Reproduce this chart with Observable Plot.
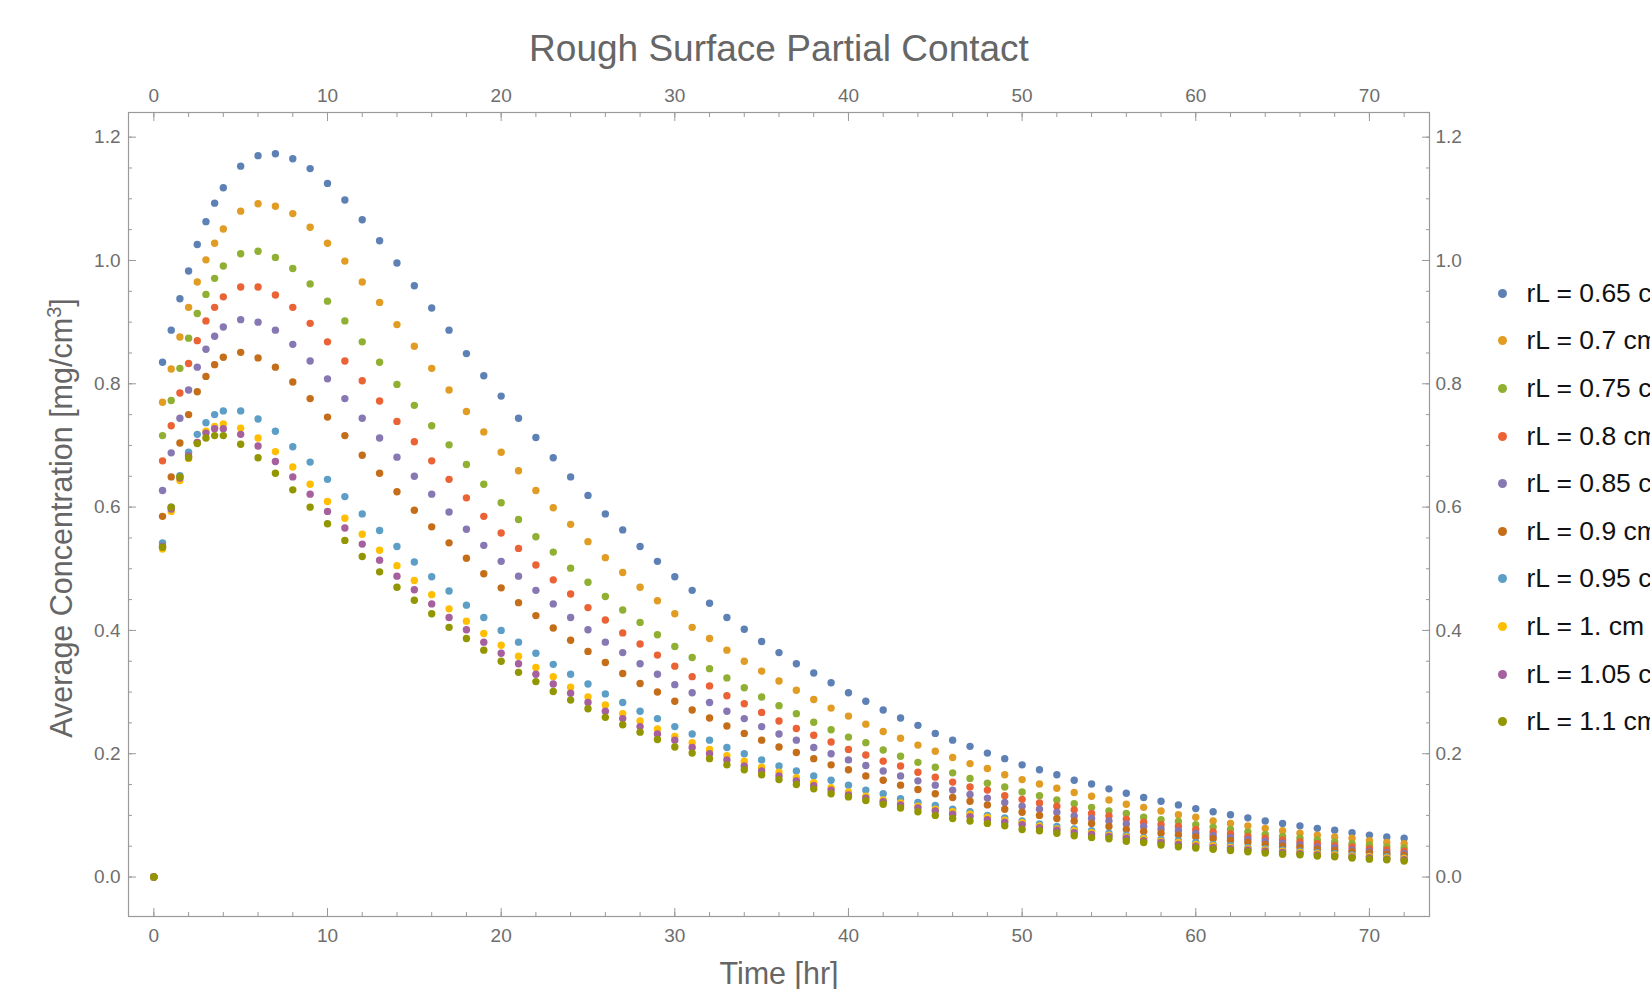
<!DOCTYPE html>
<html>
<head>
<meta charset="utf-8">
<script src="https://cdn.jsdelivr.net/npm/d3@7"></script>
<script src="https://cdn.jsdelivr.net/npm/@observablehq/plot@0.6"></script>
<style>
  html, body { margin: 0; padding: 0; background: #fff; overflow: hidden; }
  #wrap { position: relative; width: 1650px; height: 989px; overflow: hidden;
          font-family: "Liberation Sans", Arial, sans-serif; }
  #chart { position: absolute; left: 0; top: 0; }
  .lbl { position: absolute; white-space: nowrap; line-height: 1; color: #666; }
  #title { left: 779px; top: 48px; font-size: 37px; transform: translate(-50%, -50%); }
  #xlabel { left: 779px; top: 973px; font-size: 30.5px; transform: translate(-50%, -50%); }
  #ylabel { left: 61px; top: 518px; font-size: 30.5px; transform: translate(-50%, -50%) rotate(-90deg); }
  #ylabel sup { font-size: 20px; vertical-align: 0.55em; line-height: 0; }
  .leg { position: absolute; left: 1498px; height: 30px; display: flex; align-items: center;
         white-space: nowrap; font-size: 26.5px; color: #111; }
  .leg .sw { width: 9px; height: 9px; border-radius: 50%; margin-right: 19.5px; flex: none; }
</style>
</head>
<body>
<div id="wrap">
  <div id="chart"></div>
  <div class="lbl" id="title">Rough Surface Partial Contact</div>
  <div class="lbl" id="xlabel">Time [hr]</div>
  <div class="lbl" id="ylabel">Average Concentration [mg/cm<sup>3</sup>]</div>
</div>
<script>
// ---- data ----
const times = [0, 0.5, 1, 1.5, 2, 2.5, 3, 3.5, 4,
  5, 6, 7, 8, 9, 10, 11, 12, 13, 14, 15, 16, 17, 18, 19, 20,
  21, 22, 23, 24, 25, 26, 27, 28, 29, 30, 31, 32, 33, 34, 35, 36, 37, 38, 39, 40,
  41, 42, 43, 44, 45, 46, 47, 48, 49, 50, 51, 52, 53, 54, 55, 56, 57, 58, 59, 60,
  61, 62, 63, 64, 65, 66, 67, 68, 69, 70, 71, 72];

const seriesLabels = ["rL = 0.65 cm", "rL = 0.7 cm", "rL = 0.75 cm", "rL = 0.8 cm", "rL = 0.85 cm",
  "rL = 0.9 cm", "rL = 0.95 cm", "rL = 1. cm", "rL = 1.05 cm", "rL = 1.1 cm"];

const seriesColors = ["#5E81B5", "#E19C24", "#8FB032", "#EB6235", "#8778B3",
  "#C56E1A", "#5D9EC7", "#FFBF00", "#A5609D", "#929600"];

const rL065 = [0, 0.835, 0.887, 0.938, 0.983, 1.026, 1.063, 1.093, 1.118,
  1.153, 1.170, 1.173, 1.165, 1.149, 1.125,
  1.098, 1.066, 1.032, 0.996, 0.959, 0.923, 0.887, 0.849, 0.813, 0.780,
  0.744, 0.713, 0.680, 0.649, 0.619, 0.589, 0.563, 0.536, 0.512, 0.487,
  0.465, 0.444, 0.421, 0.402, 0.382, 0.364, 0.346, 0.331, 0.315, 0.299,
  0.285, 0.271, 0.258, 0.246, 0.233, 0.222, 0.212, 0.201, 0.192, 0.182,
  0.174, 0.166, 0.157, 0.151, 0.143, 0.136, 0.129, 0.123, 0.117, 0.111,
  0.106, 0.101, 0.096, 0.091, 0.087, 0.083, 0.079, 0.076, 0.072, 0.068, 0.065, 0.063];

const rL070 = [0, 0.770, 0.824, 0.876, 0.924, 0.965, 1.001, 1.028, 1.051,
  1.080, 1.092, 1.088, 1.076, 1.054, 1.028,
  0.999, 0.965, 0.932, 0.896, 0.861, 0.825, 0.790, 0.755, 0.722, 0.689,
  0.659, 0.627, 0.599, 0.572, 0.544, 0.518, 0.494, 0.470, 0.448, 0.427,
  0.405, 0.387, 0.368, 0.350, 0.334, 0.318, 0.303, 0.288, 0.274, 0.261,
  0.248, 0.236, 0.225, 0.214, 0.204, 0.194, 0.184, 0.176, 0.166, 0.158,
  0.151, 0.144, 0.137, 0.131, 0.125, 0.118, 0.113, 0.107, 0.101, 0.097,
  0.091, 0.087, 0.083, 0.079, 0.075, 0.071, 0.068, 0.065, 0.063, 0.059, 0.056, 0.054];

const rL075 = [0, 0.716, 0.773, 0.825, 0.874, 0.914, 0.945, 0.971, 0.991,
  1.011, 1.015, 1.005, 0.987, 0.962, 0.934,
  0.902, 0.868, 0.835, 0.799, 0.765, 0.732, 0.701, 0.669, 0.637, 0.607,
  0.580, 0.552, 0.527, 0.501, 0.478, 0.455, 0.433, 0.413, 0.393, 0.374,
  0.356, 0.338, 0.323, 0.307, 0.292, 0.278, 0.265, 0.251, 0.239, 0.227,
  0.218, 0.206, 0.196, 0.186, 0.178, 0.169, 0.160, 0.152, 0.146, 0.138,
  0.132, 0.125, 0.119, 0.113, 0.107, 0.103, 0.097, 0.093, 0.090, 0.085,
  0.081, 0.077, 0.073, 0.069, 0.066, 0.063, 0.060, 0.057, 0.054, 0.052, 0.049, 0.047];

const rL080 = [0, 0.675, 0.732, 0.785, 0.833, 0.870, 0.902, 0.924, 0.941,
  0.957, 0.957, 0.944, 0.924, 0.898, 0.868,
  0.837, 0.805, 0.772, 0.739, 0.706, 0.675, 0.645, 0.615, 0.585, 0.558,
  0.533, 0.506, 0.482, 0.459, 0.437, 0.417, 0.396, 0.378, 0.360, 0.342,
  0.325, 0.310, 0.294, 0.281, 0.267, 0.253, 0.241, 0.230, 0.219, 0.207,
  0.198, 0.188, 0.180, 0.170, 0.162, 0.154, 0.146, 0.141, 0.132, 0.126,
  0.120, 0.115, 0.109, 0.103, 0.099, 0.094, 0.089, 0.085, 0.082, 0.077,
  0.073, 0.070, 0.066, 0.063, 0.060, 0.057, 0.054, 0.051, 0.049, 0.046, 0.044, 0.042];

const rL085 = [0, 0.627, 0.688, 0.744, 0.790, 0.827, 0.856, 0.877, 0.892,
  0.904, 0.900, 0.887, 0.864, 0.837, 0.808,
  0.776, 0.744, 0.712, 0.681, 0.650, 0.621, 0.592, 0.564, 0.538, 0.512,
  0.488, 0.465, 0.443, 0.421, 0.401, 0.381, 0.364, 0.346, 0.329, 0.312,
  0.299, 0.283, 0.269, 0.257, 0.244, 0.232, 0.222, 0.210, 0.200, 0.190,
  0.181, 0.172, 0.164, 0.156, 0.149, 0.141, 0.134, 0.128, 0.121, 0.115,
  0.110, 0.105, 0.099, 0.095, 0.091, 0.086, 0.082, 0.078, 0.075, 0.071,
  0.067, 0.064, 0.061, 0.058, 0.055, 0.052, 0.049, 0.047, 0.044, 0.042, 0.040, 0.038];

const rL090 = [0, 0.585, 0.649, 0.704, 0.750, 0.787, 0.812, 0.831, 0.843,
  0.851, 0.842, 0.827, 0.803, 0.776, 0.746,
  0.716, 0.684, 0.655, 0.625, 0.595, 0.568, 0.542, 0.517, 0.492, 0.469,
  0.445, 0.424, 0.404, 0.384, 0.366, 0.348, 0.330, 0.314, 0.300, 0.285,
  0.271, 0.258, 0.245, 0.233, 0.222, 0.211, 0.202, 0.192, 0.182, 0.174,
  0.164, 0.157, 0.149, 0.142, 0.135, 0.129, 0.123, 0.117, 0.110, 0.105,
  0.100, 0.095, 0.091, 0.087, 0.082, 0.077, 0.074, 0.071, 0.068, 0.065,
  0.062, 0.059, 0.056, 0.053, 0.050, 0.048, 0.045, 0.043, 0.041, 0.039, 0.037, 0.035];

const rL095 = [0, 0.542, 0.600, 0.651, 0.689, 0.718, 0.737, 0.750, 0.756,
  0.756, 0.743, 0.723, 0.698, 0.673, 0.645,
  0.617, 0.589, 0.562, 0.536, 0.511, 0.487, 0.464, 0.441, 0.421, 0.400,
  0.381, 0.363, 0.345, 0.329, 0.313, 0.297, 0.283, 0.269, 0.257, 0.244,
  0.232, 0.222, 0.210, 0.200, 0.190, 0.180, 0.172, 0.164, 0.157, 0.149,
  0.141, 0.135, 0.127, 0.121, 0.116, 0.110, 0.106, 0.100, 0.096, 0.091,
  0.086, 0.082, 0.078, 0.075, 0.071, 0.068, 0.064, 0.061, 0.059, 0.056,
  0.053, 0.051, 0.048, 0.046, 0.044, 0.042, 0.040, 0.038, 0.036, 0.034, 0.033, 0.031];

const rL100 = [0, 0.532, 0.593, 0.643, 0.679, 0.705, 0.723, 0.731, 0.735,
  0.728, 0.712, 0.690, 0.665, 0.637, 0.609,
  0.582, 0.556, 0.530, 0.505, 0.481, 0.458, 0.435, 0.415, 0.395, 0.376,
  0.358, 0.340, 0.325, 0.308, 0.292, 0.279, 0.265, 0.253, 0.240, 0.228,
  0.218, 0.207, 0.197, 0.188, 0.178, 0.170, 0.161, 0.153, 0.145, 0.138,
  0.131, 0.125, 0.120, 0.115, 0.110, 0.106, 0.102, 0.097, 0.092, 0.088,
  0.083, 0.078, 0.075, 0.072, 0.068, 0.065, 0.062, 0.058, 0.056, 0.053,
  0.051, 0.048, 0.046, 0.044, 0.042, 0.040, 0.038, 0.036, 0.034, 0.033, 0.031, 0.030];

const rL105 = [0, 0.536, 0.597, 0.647, 0.683, 0.705, 0.720, 0.727, 0.727,
  0.718, 0.699, 0.674, 0.649, 0.621, 0.593,
  0.566, 0.540, 0.514, 0.488, 0.466, 0.443, 0.421, 0.401, 0.381, 0.363,
  0.346, 0.329, 0.313, 0.298, 0.283, 0.269, 0.257, 0.244, 0.232, 0.222,
  0.210, 0.200, 0.190, 0.180, 0.172, 0.164, 0.156, 0.148, 0.141, 0.133,
  0.128, 0.122, 0.117, 0.112, 0.107, 0.102, 0.098, 0.093, 0.089, 0.085,
  0.080, 0.076, 0.072, 0.069, 0.066, 0.063, 0.059, 0.056, 0.053, 0.050,
  0.048, 0.046, 0.044, 0.042, 0.040, 0.038, 0.036, 0.034, 0.032, 0.031, 0.029, 0.028];

const rL110 = [0, 0.535, 0.600, 0.649, 0.680, 0.703, 0.712, 0.716, 0.716,
  0.702, 0.680, 0.655, 0.628, 0.600, 0.573,
  0.546, 0.520, 0.495, 0.470, 0.449, 0.427, 0.405, 0.387, 0.368, 0.350,
  0.332, 0.317, 0.301, 0.287, 0.273, 0.259, 0.247, 0.235, 0.223, 0.211,
  0.201, 0.192, 0.182, 0.174, 0.166, 0.158, 0.150, 0.143, 0.135, 0.130,
  0.124, 0.118, 0.112, 0.106, 0.100, 0.095, 0.091, 0.087, 0.083, 0.077,
  0.075, 0.071, 0.067, 0.064, 0.062, 0.058, 0.056, 0.052, 0.049, 0.047,
  0.045, 0.043, 0.041, 0.039, 0.037, 0.036, 0.034, 0.033, 0.031, 0.029, 0.028, 0.026];

const seriesValues = [rL065, rL070, rL075, rL080, rL085, rL090, rL095, rL100, rL105, rL110];

const xMajorTicks = [0, 10, 20, 30, 40, 50, 60, 70];
const xMinorTicks = d3.range(0, 74, 2);
const yMajorTicks = [0, 0.2, 0.4, 0.6, 0.8, 1.0, 1.2];
const yMinorTicks = d3.range(0, 25).map(i => +(i * 0.05).toFixed(2));

// ---- build table ----
const rows = [];
seriesLabels.forEach((s, i) => {
  times.forEach((t, j) => rows.push({t, v: seriesValues[i][j], s}));
});

const frameColor = "#9a9a9a";
const labelColor = "#6e6e6e";
const fontSize = 19;

const chart = Plot.plot({
  width: 1650,
  height: 989,
  marginLeft: 128,
  marginRight: 221,
  marginTop: 112,
  marginBottom: 73,
  x: {domain: [-1.46, 73.46], label: null},
  y: {domain: [-0.064, 1.24], label: null},
  color: {domain: seriesLabels, range: seriesColors},
  style: {fontFamily: "'Liberation Sans', Arial, sans-serif", fontSize: fontSize + "px", background: "white"},
  marks: [
    Plot.frame({stroke: frameColor, strokeWidth: 1.2}),
    // tick labels
    Plot.axisX(xMajorTicks, {anchor: "bottom", tickSize: 0, tickPadding: 12, fill: labelColor, label: null, fontSize}),
    Plot.axisX(xMajorTicks, {anchor: "top", tickSize: 0, tickPadding: 11, fill: labelColor, label: null, fontSize}),
    Plot.axisY(yMajorTicks, {anchor: "left", tickSize: 0, tickPadding: 8, fill: labelColor, label: null, fontSize, tickFormat: d => d.toFixed(1)}),
    Plot.axisY(yMajorTicks, {anchor: "right", tickSize: 0, tickPadding: 6, fill: labelColor, label: null, fontSize, tickFormat: d => d.toFixed(1)}),
    // inward ticks
    Plot.axisX(xMajorTicks, {anchor: "bottom", tickSize: 8, dy: -8, stroke: frameColor, fill: "none", label: null}),
    Plot.axisX(xMinorTicks, {anchor: "bottom", tickSize: 4, dy: -4, stroke: frameColor, fill: "none", label: null}),
    Plot.axisX(xMajorTicks, {anchor: "top", tickSize: 8, dy: 8, stroke: frameColor, fill: "none", label: null}),
    Plot.axisX(xMinorTicks, {anchor: "top", tickSize: 4, dy: 4, stroke: frameColor, fill: "none", label: null}),
    Plot.axisY(yMajorTicks, {anchor: "left", tickSize: 8, dx: 8, stroke: frameColor, fill: "none", label: null}),
    Plot.axisY(yMinorTicks, {anchor: "left", tickSize: 4, dx: 4, stroke: frameColor, fill: "none", label: null}),
    Plot.axisY(yMajorTicks, {anchor: "right", tickSize: 8, dx: -8, stroke: frameColor, fill: "none", label: null}),
    Plot.axisY(yMinorTicks, {anchor: "right", tickSize: 4, dx: -4, stroke: frameColor, fill: "none", label: null}),
    // data
    Plot.dot(rows, {x: "t", y: "v", fill: "s", r: 3.7})
  ]
});
document.getElementById("chart").appendChild(chart);

// ---- legend ----
const wrap = document.getElementById("wrap");
seriesLabels.forEach((s, i) => {
  const row = document.createElement("div");
  row.className = "leg";
  row.style.top = (293.3 + i * 47.6 - 15) + "px";
  const sw = document.createElement("span");
  sw.className = "sw";
  sw.style.background = seriesColors[i];
  const tx = document.createElement("span");
  tx.textContent = s;
  row.appendChild(sw);
  row.appendChild(tx);
  wrap.appendChild(row);
});
</script>
</body>
</html>
